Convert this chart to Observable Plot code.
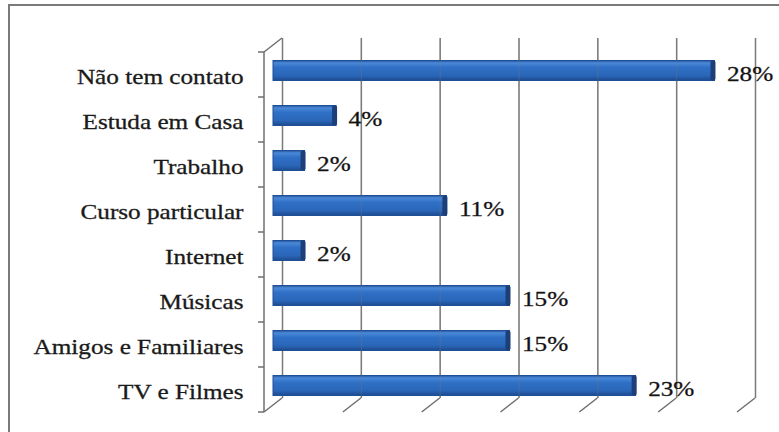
<!DOCTYPE html>
<html>
<head>
<meta charset="utf-8">
<script src="https://cdn.jsdelivr.net/npm/d3@7"></script>
<script src="https://cdn.jsdelivr.net/npm/@observablehq/plot@0.6"></script>
<style>
  html, body { margin: 0; padding: 0; background: #fff; }
  #wrap { position: relative; width: 779px; height: 432px; overflow: hidden; }
  #frame { position: absolute; left: 8px; top: 4px; right: 0; bottom: 0;
           border-left: 2px solid #7a7a7a; border-top: 2px solid #7a7a7a; pointer-events: none; }
  #chart { position: absolute; left: 0; top: 0; }
  #chart svg, #chart svg text { font-family: "Liberation Serif", "Times New Roman", serif !important; }
  #chart svg text { stroke: #1a1a1a; stroke-width: 0.3px; }
</style>
</head>
<body>
<div id="wrap"><div id="chart"></div><div id="frame"></div></div>
<script>
const categories = ["Não tem contato", "Estuda em Casa", "Trabalho", "Curso particular", "Internet", "Músicas", "Amigos e Familiares", "TV e Filmes"];
const values = [28, 4, 2, 11, 2, 15, 15, 23];
const gridTicks = [0, 5, 10, 15, 20, 25, 30];

const data = categories.map((c, i) => ({category: c, value: values[i]}));

const defsMark = () => {
  const defs = d3.create("svg:defs");
  const lg = defs.append("linearGradient").attr("id", "barGrad")
    .attr("x1", 0).attr("x2", 0).attr("y1", 0).attr("y2", 1);
  [["0%", "#254f96"], ["12%", "#4a89d8"], ["35%", "#2f70c6"], ["75%", "#2a66b8"], ["100%", "#1d4a8e"]]
    .forEach(([o, c]) => lg.append("stop").attr("offset", o).attr("stop-color", c));
  return defs.node();
};

const frame3d = (index, scales, values_, dims) => {
  const x = scales.x;
  const top = dims.marginTop, bot = dims.height - dims.marginBottom;
  const n = categories.length, step = (bot - top) / n;
  const fx = x(0) - 9;
  const g = d3.create("svg:g").attr("stroke", "#6f6f6f").attr("stroke-width", 1.5).attr("fill", "none");
  g.append("line").attr("x1", fx).attr("x2", fx).attr("y1", top).attr("y2", bot);
  for (let k = 0; k <= n; k++) {
    const yy = top + k * step;
    g.append("line").attr("x1", fx - 6).attr("x2", fx).attr("y1", yy).attr("y2", yy);
  }
  g.append("line").attr("x1", fx).attr("y1", top).attr("x2", fx + 18).attr("y2", top - 14);
  gridTicks.forEach(v => {
    g.append("line").attr("x1", x(v) - 9).attr("y1", bot).attr("x2", x(v) + 9).attr("y2", bot - 14);
  });
  return g.node();
};

const plot = Plot.plot({
  width: 779,
  height: 432,
  marginLeft: 273,
  marginRight: 33,
  marginTop: 52,
  marginBottom: 20,
  style: {fontFamily: "Liberation Serif", fontSize: "21px", color: "#1a1a1a", background: "transparent"},
  x: {domain: [0, 30], axis: null},
  y: {domain: categories, paddingInner: 0.56, paddingOuter: 0.28, label: null},
  marks: [
    defsMark,
    Plot.ruleX(gridTicks, {dx: 9, dy: -14, stroke: "#7a7a7a", strokeWidth: 1.5}),
    frame3d,
    Plot.barX(data, {x: "value", y: "category", dy: -4.5, fill: "url(#barGrad)", stroke: "#1f4f94", strokeWidth: 1}),
    Plot.barX(data, {x1: "value", x2: "value", y: "category", dy: -4.5, insetLeft: -4, insetRight: -1, fill: "#1c3f7a", rx: 2}),
    Plot.ruleX(gridTicks.slice(1), {dx: 9, dy: -14, stroke: "#7a7a7a", strokeOpacity: 0.35}),
    Plot.axisY({tickSize: 0, tickPadding: 30, dy: 1.5, label: null, fill: "#1a1a1a"}),
    Plot.text(data, {x: "value", y: "category", text: d => d.value + "%", textAnchor: "start", dx: 12, dy: -1, fill: "#111"})
  ]
});

document.getElementById("chart").appendChild(plot);

// the reference text is horizontally stretched
plot.querySelectorAll("text").forEach(t => {
  const len = t.getComputedTextLength();
  if (len > 0) {
    t.setAttribute("textLength", (len * 1.2).toFixed(1));
    t.setAttribute("lengthAdjust", "spacingAndGlyphs");
  }
});
</script>
</body>
</html>
